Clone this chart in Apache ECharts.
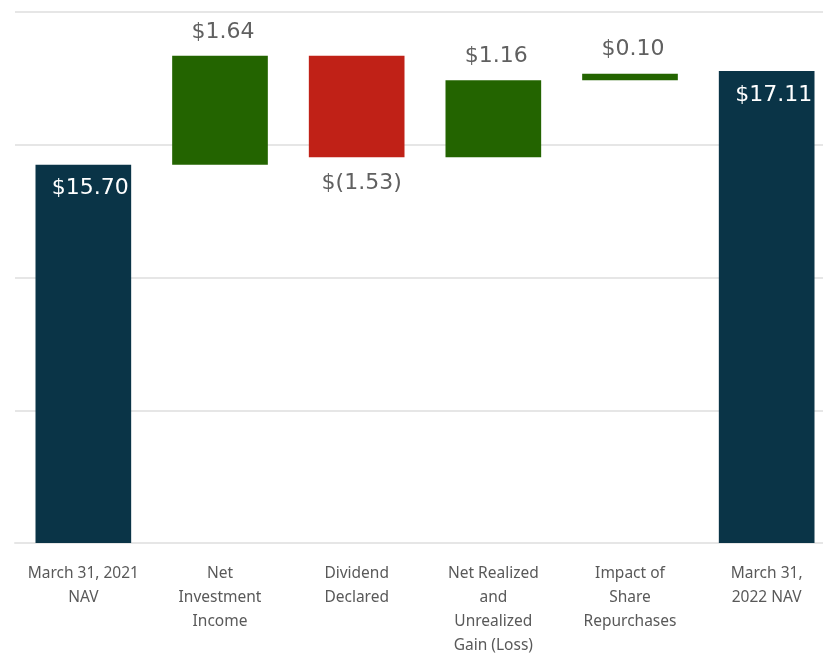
<!DOCTYPE html>
<html><head><meta charset="utf-8">
<script src="https://cdn.jsdelivr.net/npm/echarts@6/dist/echarts.min.js"></script>
<style>html,body{margin:0;padding:0;background:#fff}#c{width:823px;height:655px}</style>
</head><body><div id="c"></div>
<script>
var categories = ["March 31, 2021\nNAV", "Net\nInvestment\nIncome", "Dividend\nDeclared", "Net Realized\nand\nUnrealized\nGain (Loss)", "Impact of\nShare\nRepurchases", "March 31,\n2022 NAV"];
var values = [15.70, 1.64, -1.53, 1.16, 0.10, 17.11];
var kinds = ["total", "delta", "delta", "delta", "delta", "total"];
var labelTexts = ["$15.70", "$1.64", "$(1.53)", "$1.16", "$0.10", "$17.11"];
var yTicks = [10, 12, 14, 16, 18];

var colors = {total: "#0a3447", up: "#236400", down: "#c02117"};
var base = [], visible = [];
var running = 0;
for (var i = 0; i < values.length; i++) {
  var v = values[i];
  if (kinds[i] === "total") { base.push(0); running = v; visible.push({value: v, itemStyle: {color: colors.total},
      label: {show: true, position: "insideTop", distance: 13, color: "#ffffff", offset: [7, 0], formatter: labelTexts[i]}}); }
  else if (v >= 0) { base.push(running); running += v; visible.push({value: v, itemStyle: {color: colors.up},
      label: {show: true, position: "top", distance: 13, color: "#606060", offset: [3, 0], formatter: labelTexts[i]}}); }
  else { running += v; base.push(running); visible.push({value: -v, itemStyle: {color: colors.down},
      label: {show: true, position: "bottom", distance: 15, color: "#606060", offset: [5, 0], formatter: labelTexts[i]}}); }
}

var chart = echarts.init(document.getElementById("c"));
chart.setOption({
  animation: false,
  grid: {left: 15, width: 820, top: 12, bottom: 112, containLabel: false, outerBoundsMode: "none"},
  xAxis: {type: "category", data: categories,
    axisLine: {show: true, lineStyle: {color: "#e6e6e6", width: 2}},
    axisTick: {show: false},
    axisLabel: {interval: 0, color: "#595959", fontFamily: "Noto Sans", fontSize: 15.5, lineHeight: 24, margin: 19}},
  yAxis: {type: "value", min: yTicks[0], max: yTicks[yTicks.length - 1], interval: 2,
    axisLabel: {show: false}, axisLine: {show: false}, axisTick: {show: false},
    splitLine: {lineStyle: {color: "#e6e6e6", width: 2}}},
  series: [
    {type: "bar", stack: "w", data: base, itemStyle: {color: "transparent"}, barCategoryGap: "30%", clip: true, silent: true},
    {type: "bar", stack: "w", data: visible, barCategoryGap: "30%", clip: true,
     label: {fontFamily: "DejaVu Sans", fontSize: 22}}
  ]
});
</script></body></html>
